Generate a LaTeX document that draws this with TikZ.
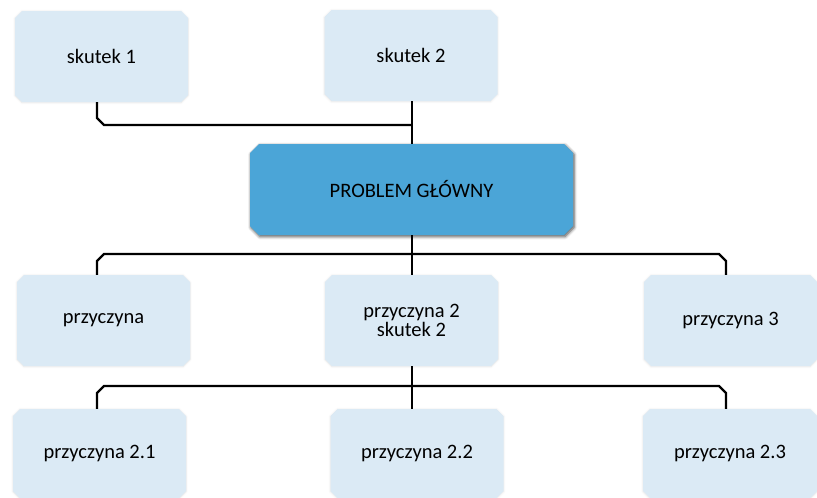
\documentclass[tikz,border=0pt]{standalone}
\usepackage{fontspec}
\setmainfont{Carlito}
\usetikzlibrary{shapes.misc,shadows.blur}
\definecolor{boxlight}{RGB}{219,234,245}
\definecolor{boxmain}{RGB}{75,165,215}
\tikzset{
  item/.style={chamfered rectangle, chamfered rectangle xsep=3.5pt,
    chamfered rectangle ysep=3.5pt, fill=boxlight, draw=none,
    minimum width=173pt, minimum height=91pt, inner sep=0pt,
    align=center, font=\fontsize{20.5}{22}\selectfont,
    blur shadow={shadow xshift=0pt, shadow yshift=-0.5pt, shadow blur radius=2pt, shadow opacity=12}},
  mainbox/.style={item, fill=boxmain, minimum width=323pt,
    chamfered rectangle xsep=4.5pt, chamfered rectangle ysep=4.5pt,
    blur shadow={shadow xshift=1pt, shadow yshift=-1.5pt, shadow blur radius=3pt, shadow opacity=40}},
  link/.style={draw=black, line width=2.4pt}
}
\begin{document}
\begin{tikzpicture}[x=1pt,y=-1pt]
\useasboundingbox (0,0) rectangle (817,498);

% effects
\node[item] (s1) at (101.5,56.5) {skutek 1};
\node[item] (s2) at (411,55.5) {skutek 2};

% central problem
\node[mainbox] (pm) at (411.5,189.5) {PROBLEM GŁÓWNY};

% causes
\node[item] (p1) at (103.5,320.5) {przyczyna};
\node[item] (p2) at (411.5,320.5) {przyczyna 2\\[-3pt]skutek 2};
\node[item] (p3) at (730.5,320.5) {przyczyna 3};

% sub-causes of cause 2
\node[item, minimum height=89pt] (p21) at (99.5,453.5) {przyczyna 2.1};
\node[item, minimum height=89pt] (p22) at (417,453.5) {przyczyna 2.2};
\node[item, minimum height=89pt, minimum width=174pt] (p23) at (730,453.5) {przyczyna 2.3};

% bus coordinates
\coordinate (colL) at (97,0);
\coordinate (colM) at (412,0);
\coordinate (colR) at (726,0);
\coordinate (busTop) at (0,125);
\coordinate (busMid) at (0,254);
\coordinate (busLow) at (0,386);

% effects -> problem
\draw[link] (s1.south -| colL) -- ([yshift=7pt]busTop -| colL)
  -- ([xshift=7pt]busTop -| colL) -- (busTop -| colM);
\draw[link] (s2.south -| colM) -- (pm.north -| colM);

% problem -> causes
\draw[link] (pm.south -| colM) -- (p2.north -| colM);
\draw[link] (p1.north -| colL) -- ([yshift=-7pt]busMid -| colL)
  -- ([xshift=7pt]busMid -| colL) -- ([xshift=-7pt]busMid -| colR)
  -- ([yshift=-7pt]busMid -| colR) -- (p3.north -| colR);

% cause 2 -> sub-causes
\draw[link] (p2.south -| colM) -- (p22.north -| colM);
\draw[link] (p21.north -| colL) -- ([yshift=-7pt]busLow -| colL)
  -- ([xshift=7pt]busLow -| colL) -- ([xshift=-7pt]busLow -| colR)
  -- ([yshift=-7pt]busLow -| colR) -- (p23.north -| colR);
\end{tikzpicture}
\end{document}
